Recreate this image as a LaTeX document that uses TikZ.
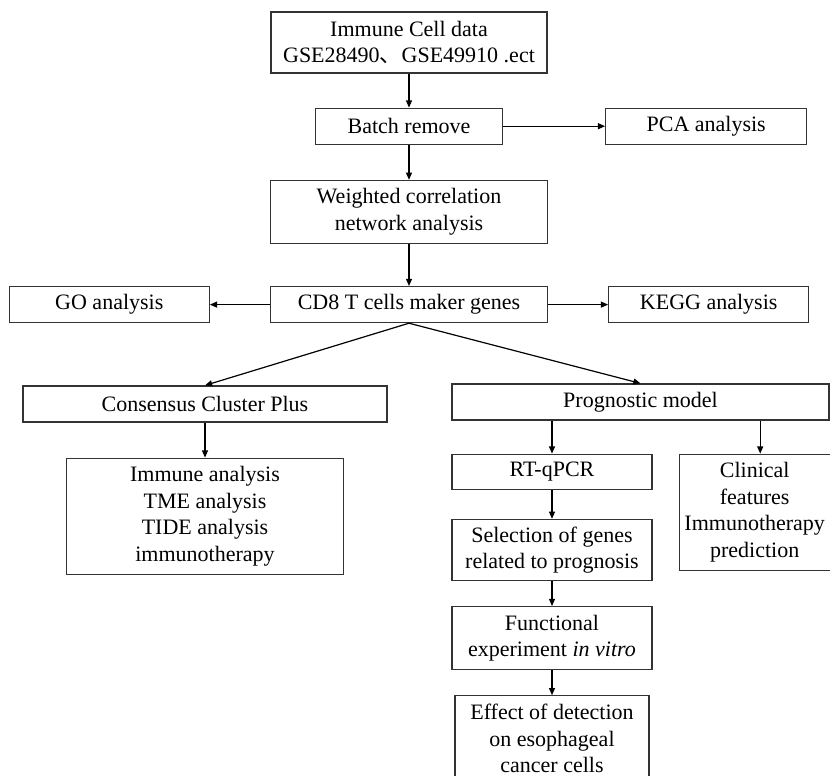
\documentclass[tikz,border=0pt]{standalone}
\usepackage{fontspec}
\setmainfont{Liberation Serif}
\newfontfamily\cjk{Noto Sans CJK SC}
\usetikzlibrary{arrows.meta, positioning}

\begin{document}
\begin{tikzpicture}[
    x=0.5pt, y=0.5pt,
    font=\fontsize{11}{13.25}\selectfont,
    box/.style={rectangle, draw=black!80, line width=0.6pt, fill=white, align=center, inner sep=1pt, minimum height=18pt},
    arr/.style={-{Triangle[length=3.6pt, width=3pt]}, line width=0.6pt, black}
]

    \useasboundingbox (0,0) rectangle (830,-776);

    % Main column
    \node (data) [box, minimum width=138pt, minimum height=30.5pt] at (409,-42.5) {Immune Cell data\\GSE28490{\cjk 、}GSE49910 .ect};
    \node (batch) [box, minimum width=93.5pt, below=17pt of data] {Batch remove};
    \node (pca) [box, minimum width=100.5pt, right=51pt of batch] {PCA analysis};
    \node (wgcna) [box, minimum width=138.5pt, minimum height=31.5pt, below=17.5pt of batch] {Weighted correlation\\network analysis};
    \node (cd8) [box, minimum width=138.5pt, below=21pt of wgcna] {CD8 T cells maker genes};
    \node (go) [box, minimum width=100pt, left=30pt of cd8] {GO analysis};
    \node (kegg) [box, minimum width=100pt, right=30pt of cd8] {KEGG analysis};

    % Left branch
    \node (cons) [box, minimum width=182pt] at (205,-404) {Consensus Cluster Plus};
    \node (immune) [box, minimum width=138.5pt, minimum height=58pt, below=17.5pt of cons] {Immune analysis\\TME analysis\\TIDE analysis\\immunotherapy};

    % Right branch
    \node (prog) [box, minimum width=188.5pt] at (640.5,-402) {Prognostic model};
    \node (rtqpcr) [box, minimum width=100pt, minimum height=17.5pt, below=16.5pt of prog.south west, anchor=north west] {RT-qPCR};
    \node (clin) [box, minimum width=75.5pt, minimum height=58pt, right=13pt of rtqpcr.north east, anchor=north west] {Clinical\\features\\Immunotherapy\\prediction};
    \node (sel) [box, minimum width=100pt, minimum height=30.5pt, below=14.5pt of rtqpcr] {Selection of genes\\related to prognosis};
    \node (func) [box, minimum width=100pt, minimum height=31.5pt, below=12.5pt of sel] {Functional\\experiment \textit{in vitro}};
    \node (effect) [box, minimum width=97pt, minimum height=43pt, below=12.5pt of func] {Effect of detection\\on esophageal\\cancer cells};

    % Arrows
    \draw[arr] (data) -- (batch);
    \draw[arr] (batch) -- (pca);
    \draw[arr] (batch) -- (wgcna);
    \draw[arr] (wgcna) -- (cd8);
    \draw[arr] (cd8) -- (go);
    \draw[arr] (cd8) -- (kegg);
    \draw[arr] (cd8.south) -- (cons.north);
    \draw[arr] (cd8.south) -- (prog.north);
    \draw[arr] (cons) -- (immune);
    \draw[arr] (rtqpcr.north |- prog.south) -- (rtqpcr.north);
    \draw[arr] ([xshift=2.75pt]clin.north |- prog.south) -- ([xshift=2.75pt]clin.north);
    \draw[arr] (rtqpcr) -- (sel);
    \draw[arr] (sel) -- (func);
    \draw[arr] (func) -- (effect);

\end{tikzpicture}
\end{document}
